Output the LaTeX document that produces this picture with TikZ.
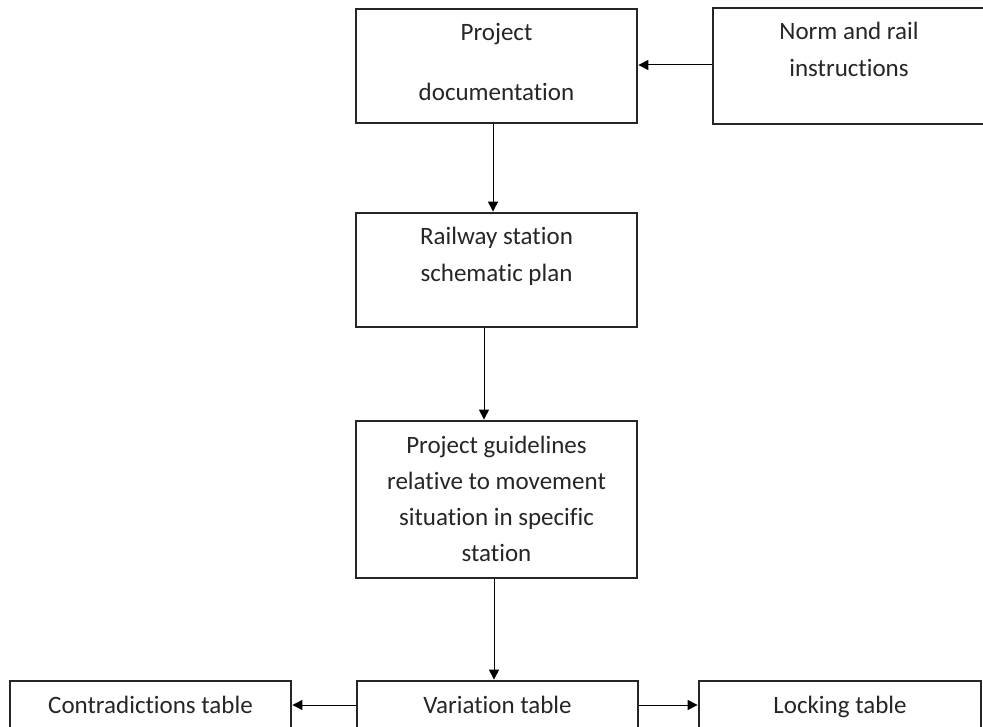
\documentclass[tikz,border=0pt]{standalone}
\usepackage{fontspec}
\setmainfont{Carlito}[Ligatures=NoCommon]
\usetikzlibrary{arrows.meta}
\tikzset{
  box/.style={draw=black!85, line width=2.8pt, rectangle, inner sep=0pt, fill=white},
  txt/.style={anchor=base, inner sep=0pt, font=\fontsize{25}{30}\selectfont, text=black!85},
  arr/.style={draw=black, line width=1pt, -{Triangle[length=10pt,width=10pt]}}
}
\begin{document}
\begin{tikzpicture}[x=1pt,y=-1pt]
\useasboundingbox (0,0) rectangle (983,727);
% boxes
\node[box, minimum width=281pt, minimum height=114pt] (doc) at (496.5,66) {};
\node[box, minimum width=272pt, minimum height=116pt] (norm) at (849,66) {};
\node[box, minimum width=281pt, minimum height=114pt] (plan) at (496.5,270) {};
\node[box, minimum width=281pt, minimum height=157pt] (guide) at (496.5,499.5) {};
\node[box, minimum width=281pt, minimum height=47pt] (var) at (497.5,704.5) {};
\node[box, minimum width=281pt, minimum height=47pt] (contra) at (150.5,704.5) {};
\node[box, minimum width=282pt, minimum height=47pt] (lock) at (840,704.5) {};
% texts
\node[txt] (t1a) at (496.5,41) {Project};
\node[txt] (t1b) at (496.5,101) {documentation};
\node[txt] (t2a) at (849,40) {Norm and rail};
\node[txt] (t2b) at (849,77) {instructions};
\node[txt] (t3a) at (496.5,245) {Railway station};
\node[txt] (t3b) at (496.5,282) {schematic plan};
\node[txt] (t4a) at (496.5,453) {Project guidelines};
\node[txt] (t4b) at (496.5,489) {relative to movement};
\node[txt] (t4c) at (496.5,525) {situation in specific};
\node[txt] (t4d) at (496.5,561) {station};
\node[txt] (t5) at (497.5,713) {Variation table};
\node[txt] (t6) at (150.5,713) {Contradictions table};
\node[txt] (t7) at (840,713) {Locking table};
% connector x positions
\coordinate (c1) at (493,0);
\coordinate (c2) at (484,0);
\coordinate (c3) at (494,0);
\coordinate (r1) at (0,65);
\coordinate (r2) at (0,705);
% connectors
\draw[arr] (norm.west |- r1) -- (doc.east |- r1);
\draw[arr] (doc.south -| c1) -- (plan.north -| c1);
\draw[arr] (plan.south -| c2) -- (guide.north -| c2);
\draw[arr] (guide.south -| c3) -- (var.north -| c3);
\draw[arr] (var.west |- r2) -- (contra.east |- r2);
\draw[arr] (var.east |- r2) -- (lock.west |- r2);
\end{tikzpicture}
\end{document}
